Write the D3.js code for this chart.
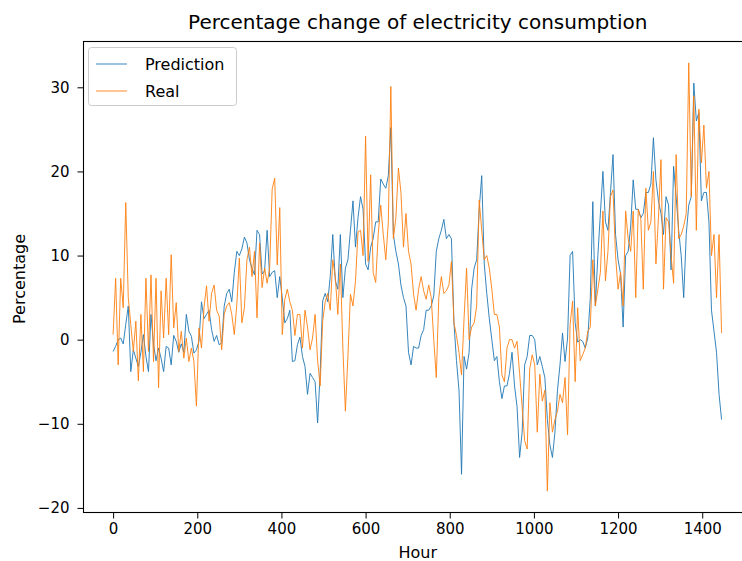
<!DOCTYPE html>
<html>
<head>
<meta charset="utf-8">
<script src="https://cdn.jsdelivr.net/npm/d3@7"></script>
<style>
  html, body { margin: 0; padding: 0; background: #ffffff; }
  svg { display: block; }
  text { font-family: "DejaVu Sans", sans-serif; fill: #000; }
</style>
</head>
<body>
<svg id="chart" width="742" height="561"></svg>
<script>
// Hourly sampling interval of the two series (hours between samples)
const STEP = 6;

// Model prediction, percentage change of consumption
const prediction = [
  -1.4, -0.8, 0.0, 0.2, -0.5, 1.8, 4.0, -3.8, -1.2, -2.2,
  -3.2, -1.5, 0.6, -2.0, -3.8, 3.0, -0.5, -2.5, -1.0, -2.2,
  -3.8, -0.8, -1.0, -3.0, 0.5, -0.2, -1.5, -0.5, -1.5, 3.0,
  1.0, 0.4, -1.6, -1.2, -0.2, 4.5, 2.5, 3.0, 3.5, 1.2,
  -0.2, 0.5, -0.6, -0.4, 4.0, 5.5, 6.0, 4.5, 8.0, 10.5,
  10.0, 10.8, 12.2, 11.5, 9.5, 8.5, 7.7, 13.0, 12.5, 7.8,
  8.2, 13.0, 7.5, 8.0, 8.2, 5.0, 7.5, 5.0, 2.0, 2.5,
  3.5, -2.6, -2.5, -0.6, 0.3, -2.0, -3.2, -6.5, -4.0, -4.5,
  -5.0, -9.9, -4.0, 4.6, 5.5, 4.5, 7.5, 12.5, 7.0, 6.0,
  12.5, 5.0, 8.5, 9.5, 13.0, 16.5, 11.0, 14.5, 17.0, 15.5,
  9.0, 8.3, 11.0, 12.0, 14.0, 14.0, 19.1, 18.5, 18.0, 19.5,
  25.2, 12.5, 10.5, 9.0, 6.5, 5.0, 4.0, -1.5, -3.0, -0.8,
  -1.0, -1.0, 0.5, 1.2, 3.5, 3.5, 4.0, 5.2, 10.5, 12.0,
  13.0, 14.3, 12.0, 12.5, 12.0, 2.0, -2.5, -6.0, -16.0, -2.0,
  -3.5, -1.5, 6.0, 8.5, 9.5, 15.5, 19.5, 9.0, 5.5, 2.5,
  0.0, -2.5, -2.0, -5.0, -7.0, -5.5, -5.5, -4.0, -1.5, -5.5,
  -8.0, -14.0, -11.0, -3.0, -2.0, 0.5, 0.5, 0.0, -3.0, -2.0,
  -3.2, -4.5, -9.5, -12.5, -14.0, -11.0, -6.0, -3.0, 0.8, -2.6,
  0.2, 10.0, 10.5, 2.0, -0.3, 0.0, -0.2, -1.0, 0.2, 5.0,
  16.4, 4.0, 10.0, 15.0, 20.0, 14.0, 13.0, 17.5, 22.0, 12.5,
  9.5, 7.8, 1.5, 10.0, 10.5, 13.5, 19.0, 15.5, 15.5, 14.5,
  15.0, 17.5, 17.5, 18.5, 24.0, 19.0, 16.5, 15.0, 12.5, 17.0,
  16.0, 8.3, 20.6, 17.0, 13.0, 10.0, 5.0, 12.5, 16.0, 17.0,
  30.5, 26.0, 27.0, 16.5, 17.5, 17.5, 14.0, 3.5, 1.0, -1.5,
  -6.5, -9.5
];

// Measured percentage change of consumption
const real = [
  0.6, 7.3, -3.0, 7.3, 3.8, 16.3, 5.0, 1.8, -1.4, 2.2,
  -4.9, 3.0, -3.8, 7.3, -1.4, 7.7, -2.6, 7.3, -5.7, 5.8,
  0.2, 7.3, 0.6, 10.1, 1.4, 4.4, -1.4, 1.0, -2.2, 0.2,
  -2.6, -1.0, -2.6, -7.9, 1.4, -1.0, 3.8, 6.4, 2.2, 5.5,
  6.5, 3.5, 2.8, -1.2, 3.0, 4.0, 4.4, 3.0, 0.6, 4.2,
  9.7, 2.0, 3.8, 9.5, 11.0, 7.5, 10.5, 2.6, 11.5, 6.2,
  8.5, 6.7, 8.5, 17.9, 19.2, 8.9, 15.7, 0.6, 4.8, 6.0,
  4.5, 3.5, 0.5, 3.0, 3.0, -1.0, 3.5, 1.5, -1.2, 0.2,
  3.0, -2.5, -5.5, 2.2, 4.5, 5.5, 3.5, 9.5, 7.5, 3.0,
  9.0, -1.0, -8.5, -2.0, 5.4, 4.0, 7.0, 12.8, 13.0, 10.0,
  24.2, 9.3, 19.6, 8.0, 6.8, 12.5, 16.0, 12.5, 9.5, 14.0,
  30.1, 12.0, 14.5, 20.4, 17.5, 11.0, 15.0, 10.5, 9.0, 5.4,
  3.5, 6.0, 7.5, 5.8, 4.8, 6.5, 5.0, 0.0, -4.5, 5.0,
  7.5, 5.5, 5.8, 6.5, 9.3, 2.0, 0.5, -1.5, -4.2, 2.5,
  8.5, 0.0, 1.5, 2.0, 4.0, 16.6, 13.0, 9.5, 10.0, 8.5,
  6.0, 3.0, 3.0, 1.5, -4.2, -5.0, -1.0, 0.0, 0.0, -1.0,
  -0.2, -4.0, -8.0, -12.0, -13.0, -3.5, -1.8, -3.0, -11.0, -4.1,
  -7.3, -6.0, -18.0, -7.5, -11.0, -9.5, -8.5, -6.5, -7.5, -4.5,
  -11.3, 1.8, 4.6, -5.0, 3.8, -2.5, -1.8, -1.0, 1.0, 1.5,
  9.5, 4.0, 6.0, 8.0, 15.3, 7.0, 10.5, 17.0, 17.8, 10.0,
  6.0, 8.0, 4.0, 15.3, 12.0, 10.5, 15.3, 5.0, 15.5, 14.5,
  6.0, 18.0, 13.0, 14.0, 20.0, 9.0, 14.5, 21.4, 6.0, 14.5,
  14.0, 10.0, 6.7, 22.0, 12.0, 12.5, 13.5, 15.0, 32.9, 17.0,
  29.0, 13.0, 27.4, 21.0, 25.5, 18.0, 20.0, 10.0, 12.5, 5.0,
  12.5, 0.8
];

const xTicks = [0, 200, 400, 600, 800, 1000, 1200, 1400];
const yTicks = [-20, -10, 0, 10, 20, 30];

const seriesNames = ["Prediction", "Real"];
const seriesColors = ["#1f77b4", "#ff7f0e"];

const svg = d3.select("#chart");
svg.append("rect").attr("width", 742).attr("height", 561).attr("fill", "#ffffff");

// Axes box
const box = { left: 83.5, right: 752, top: 41.5, bottom: 512.5 };

const hours = prediction.map((_, i) => i * STEP);
const lastHour = d3.max(hours);
const allValues = prediction.concat(real);
const yMin = d3.min(allValues), yMax = d3.max(allValues);
const yPad = (yMax - yMin) * 0.05;
const xPad = lastHour * 0.05;

const x = d3.scaleLinear()
  .domain([-xPad, lastHour + xPad])
  .range([box.left - 0.8, box.right]);
const y = d3.scaleLinear()
  .domain([yMin - yPad, yMax + yPad])
  .range([box.bottom, box.top]);

// Series lines
const line = d3.line()
  .x((d, i) => x(hours[i]))
  .y(d => y(d));

[prediction, real].forEach((series, k) => {
  svg.append("path")
    .datum(series)
    .attr("fill", "none")
    .attr("stroke", seriesColors[k])
    .attr("stroke-width", 0.9)
    .attr("stroke-linejoin", "round")
    .attr("d", line);
});

// Axes
const fmt = d => (d < 0 ? "\u2212" + Math.abs(d) : String(d));

const xAxis = svg.append("g")
  .attr("transform", `translate(0,${box.bottom})`)
  .call(d3.axisBottom(x).tickValues(xTicks).tickFormat(fmt).tickSize(6).tickPadding(5));
const yAxis = svg.append("g")
  .attr("transform", `translate(${box.left},0)`)
  .call(d3.axisLeft(y).tickValues(yTicks).tickFormat(fmt).tickSize(6).tickPadding(8));

[xAxis, yAxis].forEach(g => {
  g.select(".domain").remove();
  g.selectAll(".tick line").attr("stroke", "#000").attr("stroke-width", 1);
  g.selectAll(".tick text")
    .attr("fill", "#000")
    .style("font-family", "DejaVu Sans, sans-serif")
    .style("font-size", "15px");
});

// Frame (spines)
svg.append("rect")
  .attr("x", box.left)
  .attr("y", box.top)
  .attr("width", box.right - box.left)
  .attr("height", box.bottom - box.top)
  .attr("fill", "none")
  .attr("stroke", "#000")
  .attr("stroke-width", 1.1);

// Title and axis labels
svg.append("text")
  .attr("x", (box.left + box.right) / 2)
  .attr("y", 29)
  .attr("text-anchor", "middle")
  .style("font-size", "20px")
  .text("Percentage change of electricity consumption");

svg.append("text")
  .attr("x", (box.left + box.right) / 2)
  .attr("y", 558)
  .attr("text-anchor", "middle")
  .style("font-size", "16px")
  .text("Hour");

svg.append("text")
  .attr("transform", "translate(25,279) rotate(-90)")
  .attr("text-anchor", "middle")
  .style("font-size", "16px")
  .text("Percentage");

// Legend
const legend = svg.append("g");
legend.append("rect")
  .attr("x", 88.5).attr("y", 47.5)
  .attr("width", 148).attr("height", 58)
  .attr("rx", 3)
  .attr("fill", "#ffffff").attr("fill-opacity", 0.8)
  .attr("stroke", "#cccccc").attr("stroke-width", 1);

seriesNames.forEach((name, k) => {
  const cy = 64 + k * 27;
  legend.append("line")
    .attr("x1", 96).attr("x2", 127)
    .attr("y1", cy).attr("y2", cy)
    .attr("stroke", seriesColors[k]).attr("stroke-width", 0.9);
  legend.append("text")
    .attr("x", 145).attr("y", cy + 6)
    .style("font-size", "16px")
    .text(name);
});
</script>
</body>
</html>
